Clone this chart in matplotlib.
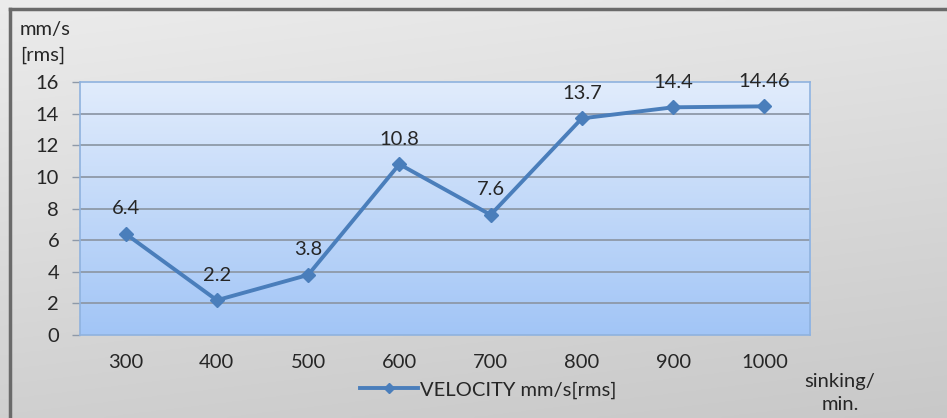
import numpy as np
import matplotlib.pyplot as plt
from matplotlib.lines import Line2D

plt.rcParams['font.family'] = ['Lato', 'DejaVu Sans']

speeds = ["300", "400", "500", "600", "700", "800", "900", "1000"]
velocity = [6.4, 2.2, 3.8, 10.8, 7.6, 13.7, 14.4, 14.46]
value_labels = ["6.4", "2.2", "3.8", "10.8", "7.6", "13.7", "14.4", "14.46"]
y_ticks = [0, 2, 4, 6, 8, 10, 12, 14, 16]

LINE = "#4a7ebb"
TEXT = "#262626"
FS = 14.5

fig = plt.figure(figsize=(9.47, 4.18), dpi=100)

# grey chart-area gradient behind everything
bg = fig.add_axes([0, 0, 1, 1], zorder=-10)
gy, gx = np.mgrid[0:1:200j, 0:1:200j]
shade = 0.925 - 0.11 * gy - 0.03 * gx
bg.imshow(np.dstack([shade, shade, shade]), extent=[0, 1, 0, 1],
          aspect="auto", origin="upper")
bg.set_xlim(0, 1)
bg.set_ylim(0, 1)
bg.axis("off")
# dark frame (top and left edges)
bg.plot([10 / 947, 1], [1 - 9 / 418, 1 - 9 / 418], color="#6a6a6a", lw=2.5)
bg.plot([10 / 947, 10 / 947], [0, 1 - 9 / 418], color="#6a6a6a", lw=2.5)

ax = fig.add_axes([80 / 947, 1 - 335 / 418, 730 / 947, 253 / 418])
x = np.arange(len(speeds))
ax.set_xlim(-0.5, len(speeds) - 0.5)
ax.set_ylim(0, 16)

# blue plot-area gradient
grad = np.linspace(0, 1, 256).reshape(-1, 1)
top = np.array([0.882, 0.925, 0.988])
bot = np.array([0.635, 0.773, 0.965])
img = top + (bot - top) * grad[:, :, None]
ax.imshow(img, extent=[-0.5, len(speeds) - 0.5, 0, 16], aspect="auto",
          origin="upper", zorder=0)

for yv in y_ticks[1:-1]:
    ax.axhline(yv, color="#8e99a8", lw=1.3, zorder=1)

ax.plot(x, velocity, color=LINE, lw=2.8, marker="D", ms=7, zorder=3)
for xi, yi, lbl in zip(x, velocity, value_labels):
    ax.annotate(lbl, (xi, yi), xytext=(0, 18), textcoords="offset points",
                ha="center", va="center", fontsize=FS, color=TEXT,
                annotation_clip=False)

for side in ["top", "right", "bottom", "left"]:
    ax.spines[side].set_color("#8fb2de")
    ax.spines[side].set_linewidth(1.2)

ax.set_xticks(x)
ax.set_xticklabels(speeds)
ax.set_yticks(y_ticks)
ax.tick_params(axis="x", length=0, pad=14, labelsize=FS, labelcolor=TEXT)
ax.tick_params(axis="y", length=6, width=1, color="#8e99a8", pad=9,
               labelsize=FS, labelcolor=TEXT)

fig.text(20 / 947, 1 - 30 / 418, "mm/s", fontsize=FS, color=TEXT,
         ha="left", va="center")
fig.text(20 / 947, 1 - 55 / 418, "[rms]", fontsize=FS, color=TEXT,
         ha="left", va="center")
fig.text(840 / 947, 1 - 381 / 418, "sinking/", fontsize=FS, color=TEXT,
         ha="center", va="center")
fig.text(840 / 947, 1 - 405 / 418, "min.", fontsize=FS, color=TEXT,
         ha="center", va="center")

handle = Line2D([], [], color=LINE, lw=2.8, marker="D", ms=5.5)
fig.legend([handle], ["VELOCITY mm/s[rms]"], loc="center",
           bbox_to_anchor=(488 / 947, 1 - 390 / 418), frameon=False,
           fontsize=FS, handlelength=2.9, handletextpad=0.1,
           labelcolor=TEXT)

fig.savefig("out.png", dpi=100)
